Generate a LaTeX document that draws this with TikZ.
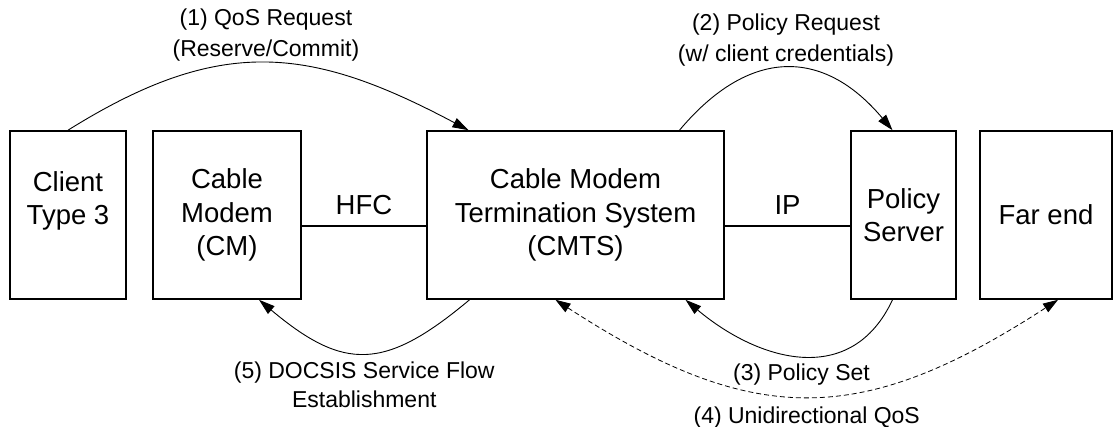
\documentclass[tikz,border=0pt]{standalone}
\usepackage{fontspec}
\setmainfont{Liberation Sans}
\usetikzlibrary{arrows.meta, calc}

\begin{document}
\begin{tikzpicture}[x=1pt, y=-1pt]
\tikzset{
    node style box/.style={draw, rectangle, line width=1.6pt, align=center, inner sep=0pt, minimum height=168pt, font=\fontsize{27.5}{33.5}\selectfont},
    node style big/.style={font=\fontsize{27.5}{33.5}\selectfont},
    node style lbl/.style={align=center, font=\fontsize{23}{29}\selectfont},
    node style top/.style={align=center, font=\fontsize{23}{31}\selectfont},
    arrow style msg/.style={line width=0.9pt, -{Triangle[length=16pt,width=10pt]}},
    arrow style qos/.style={line width=0.8pt, dash pattern=on 5pt off 3pt, {Triangle[length=15pt,width=10pt]}-{Triangle[length=15pt,width=10pt]}}
}
  \useasboundingbox (0,0) rectangle (1114,427);

  % boxes
  \node[node style box, minimum width=116pt] (client) at (68,215) {Client\\Type 3\\\mbox{}};
  \node[node style box, minimum width=148pt] (cm) at (227,215) {Cable\\Modem\\(CM)};
  \node[node style box, minimum width=297pt] (cmts) at (575.5,215) {Cable Modem\\Termination System\\(CMTS)};
  \node[node style box, minimum width=105pt] (policy) at (903.5,215) {Policy\\Server};
  \node[node style box, minimum width=132pt] (farend) at (1046,215) {Far end};

  % links
  \draw[line width=1.2pt] ([yshift=-11pt]cm.east) -- node[node style big, yshift=21pt] (hfc) {HFC} ([yshift=-11pt]cmts.west);
  \draw[line width=1.2pt] ([yshift=-11pt]cmts.east) -- node[node style big, yshift=21pt] (ip) {IP} ([yshift=-11pt]policy.west);

  % messages
  \path[arrow style msg]
    (client.north) edge[out=32, in=152, looseness=1.15]
        node[node style top, above, inner sep=1pt] (req) {(1) QoS Request\\(Reserve/Commit)} ([xshift=-107pt]cmts.north)
    ([xshift=104pt]cmts.north) edge[out=50, in=130, looseness=1.3]
        node[node style top, above, inner sep=1pt] (preq) {(2) Policy Request\\(w/ client credentials)} ([xshift=-11pt]policy.north)
    ([xshift=-11pt]policy.south) edge[out=-115, in=-40, looseness=1.2]
        node[node style lbl, below=3.7pt] (pset) {(3) Policy Set} ([xshift=110pt]cmts.south)
    ([xshift=-106pt]cmts.south) edge[out=-140, in=-40, looseness=1.35]
        node[node style lbl, below=4.7pt] (sflow) {(5) DOCSIS Service Flow\\Establishment} ([xshift=32pt]cm.south);
  \path[arrow style qos]
    ([xshift=-20pt]cmts.south) edge[out=-33, in=-147, looseness=1.2]
        node[node style lbl, below=7pt] (uqos) {(4) Unidirectional QoS} ([xshift=12pt]farend.south);
\end{tikzpicture}
\end{document}
